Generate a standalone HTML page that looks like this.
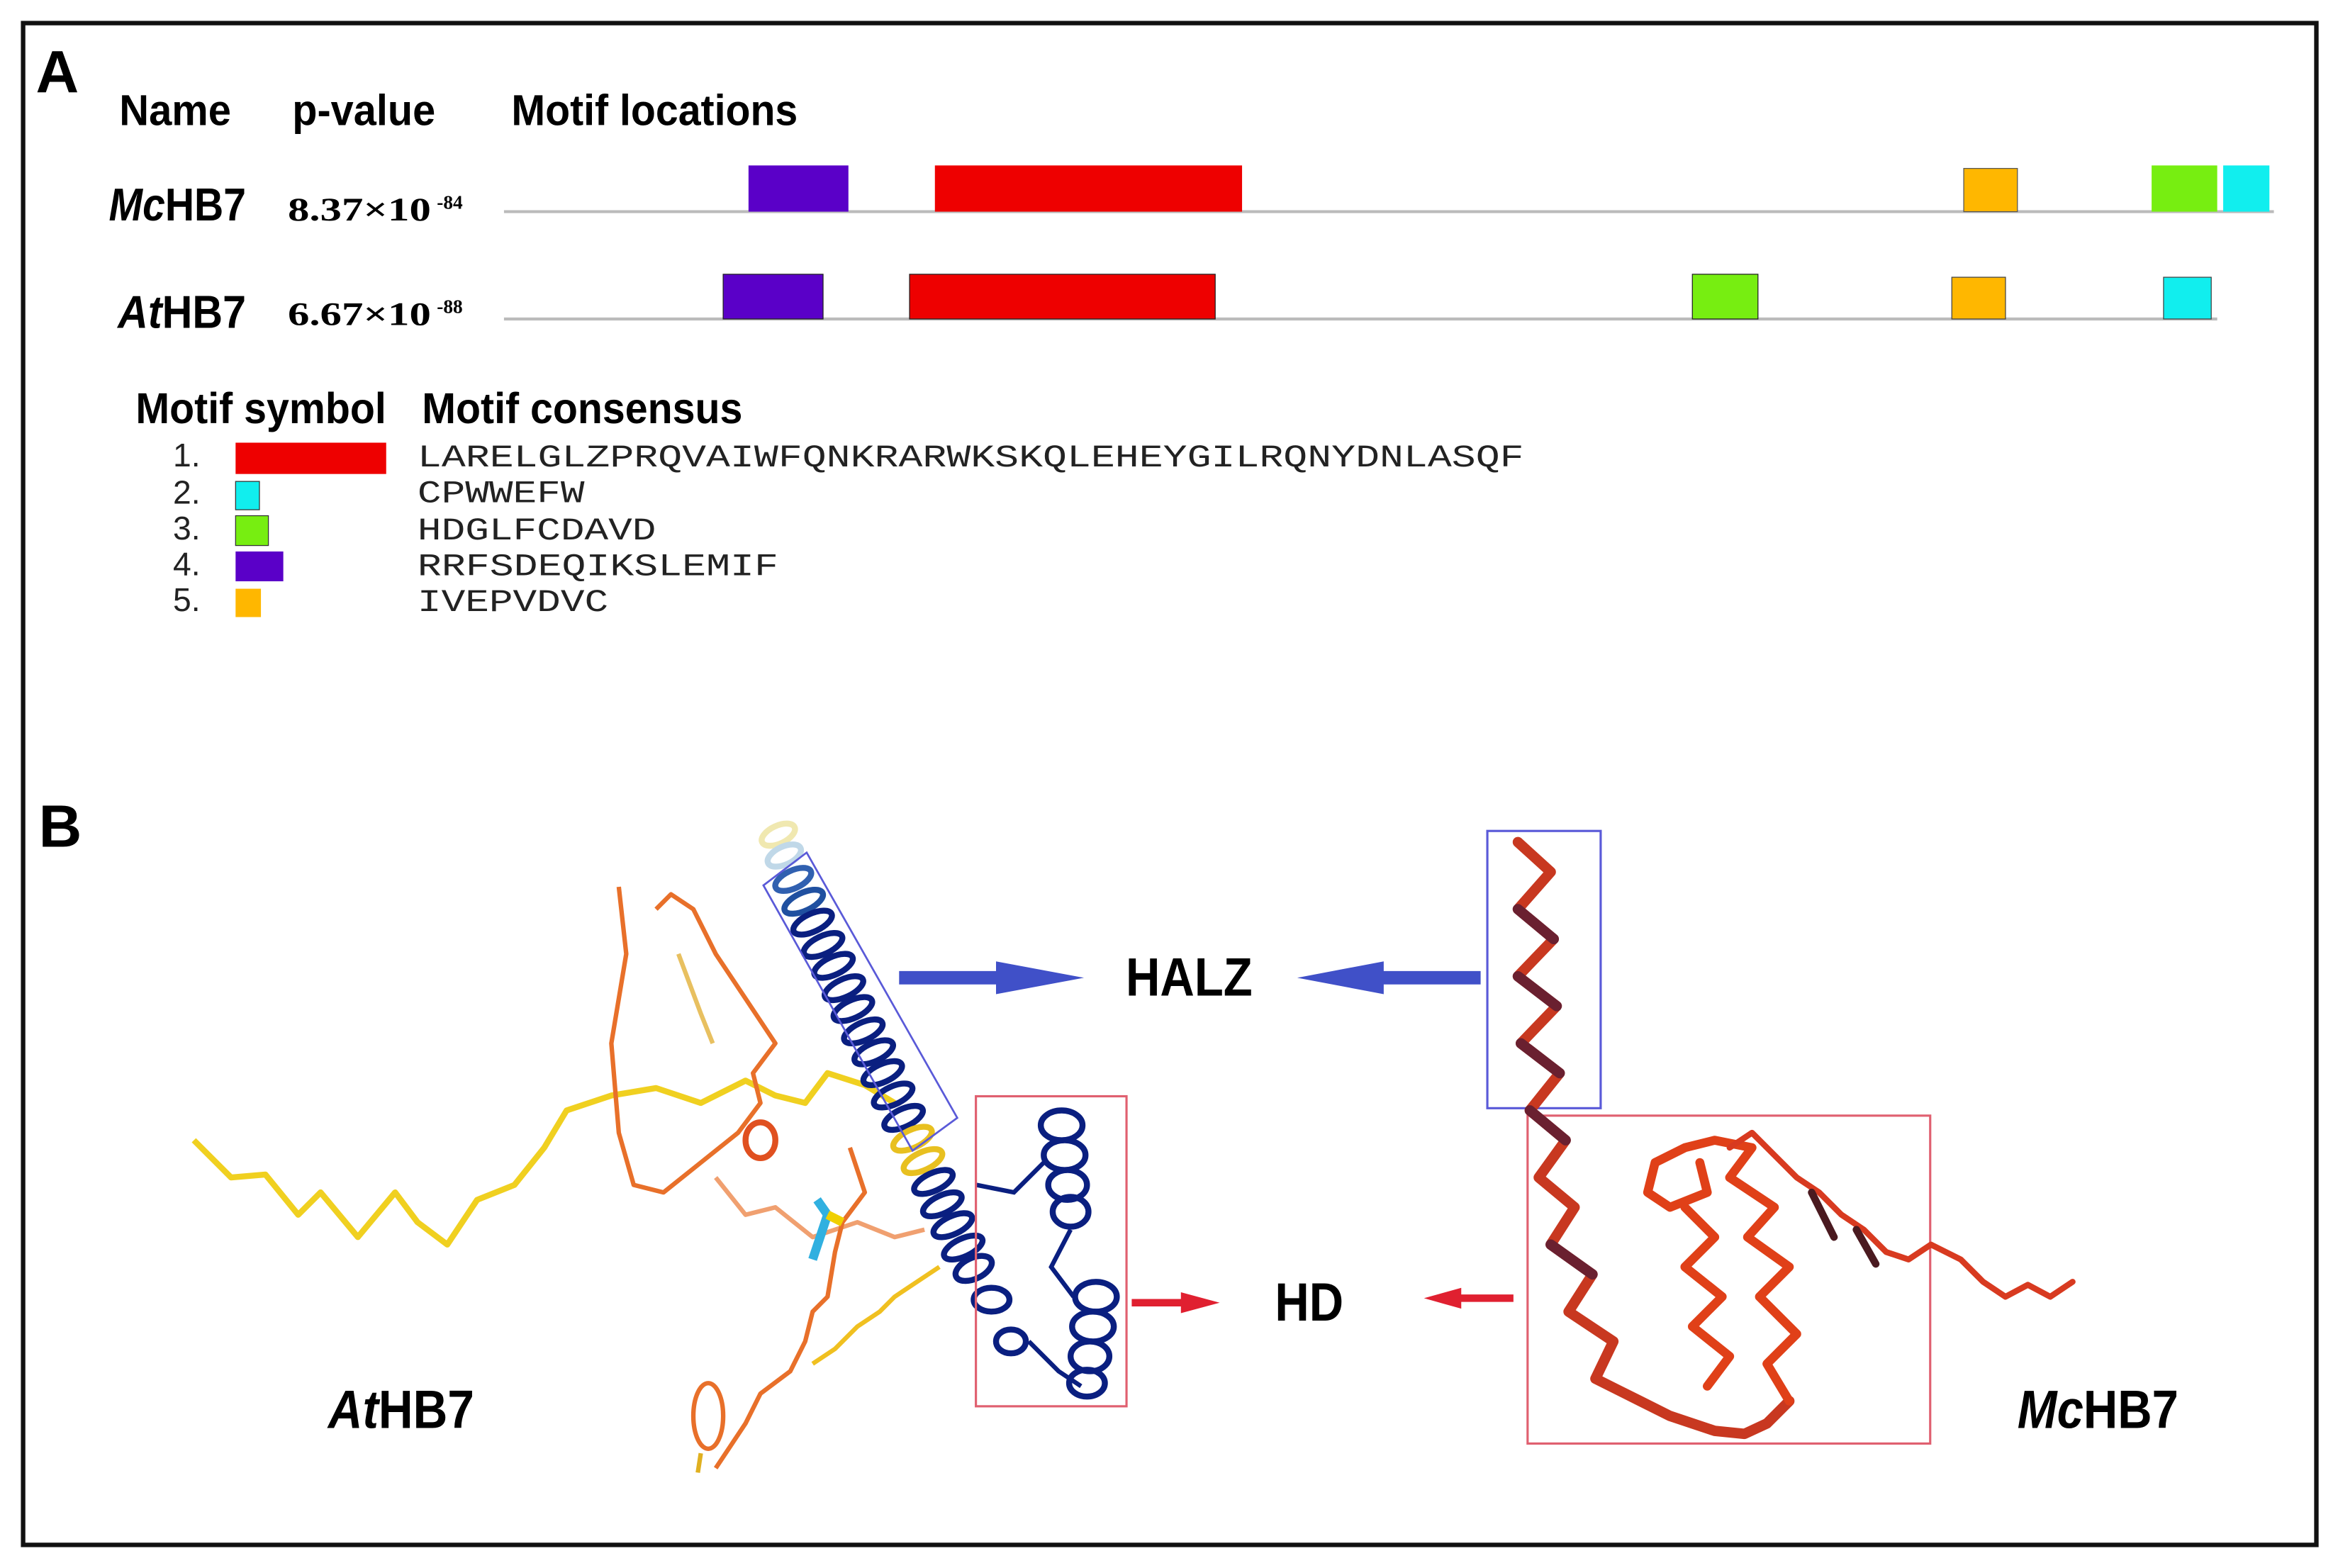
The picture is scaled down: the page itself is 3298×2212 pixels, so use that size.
<!DOCTYPE html>
<html><head><meta charset="utf-8"><style>
html,body{margin:0;padding:0;background:#fff;}
svg{display:block;}
.h{font-family:"Liberation Sans",sans-serif;font-weight:bold;}
.m{font-family:"Liberation Mono",monospace;}
.s{font-family:"Liberation Serif",serif;font-weight:bold;}
</style></head><body>
<svg width="3298" height="2212" viewBox="0 0 1568 1052" preserveAspectRatio="none" xmlns="http://www.w3.org/2000/svg">
<rect x="0" y="0" width="1568" height="1052" fill="#fff"/>
<rect x="15.5" y="15.5" width="1538" height="1021" fill="none" stroke="#111" stroke-width="3"/>
<text x="24" y="62" class="h" font-size="40">A</text>
<text x="80" y="84" class="h" font-size="29" textLength="75" lengthAdjust="spacingAndGlyphs">Name</text>
<text x="196" y="84" class="h" font-size="29" textLength="96" lengthAdjust="spacingAndGlyphs">p-value</text>
<text x="343" y="84" class="h" font-size="29" textLength="192" lengthAdjust="spacingAndGlyphs">Motif locations</text>

<text x="73" y="148" class="h" font-size="31" textLength="92" lengthAdjust="spacingAndGlyphs"><tspan font-style="italic">Mc</tspan>HB7</text>
<text x="193" y="148" class="s" font-size="22" textLength="96" lengthAdjust="spacingAndGlyphs">8.37×10</text>
<text x="293" y="140" class="s" font-size="13">-84</text>
<line x1="338" y1="142" x2="1525" y2="142" stroke="#bbb" stroke-width="2"/>
<rect x="502" y="111" width="67" height="31" fill="#5a00c8"/>
<rect x="627" y="111" width="206" height="31" fill="#ee0000"/>
<rect x="1317" y="113" width="36" height="29" fill="#ffb700" stroke="#555" stroke-width="0.6"/>
<rect x="1443" y="111" width="44" height="31" fill="#77ee11"/>
<rect x="1491" y="111" width="31" height="31" fill="#11eeee"/>

<text x="79" y="220" class="h" font-size="31" textLength="86" lengthAdjust="spacingAndGlyphs"><tspan font-style="italic">At</tspan>HB7</text>
<text x="193" y="218" class="s" font-size="22" textLength="96" lengthAdjust="spacingAndGlyphs">6.67×10</text>
<text x="293" y="210" class="s" font-size="13">-88</text>
<line x1="338" y1="214" x2="1487" y2="214" stroke="#bbb" stroke-width="2"/>
<rect x="485" y="184" width="67" height="30" fill="#5a00c8" stroke="#222" stroke-width="0.6"/>
<rect x="610" y="184" width="205" height="30" fill="#ee0000" stroke="#222" stroke-width="0.6"/>
<rect x="1135" y="184" width="44" height="30" fill="#77ee11" stroke="#222" stroke-width="0.6"/>
<rect x="1309" y="186" width="36" height="28" fill="#ffb700" stroke="#444" stroke-width="0.6"/>
<rect x="1451" y="186" width="32" height="28" fill="#11eeee" stroke="#444" stroke-width="0.6"/>

<text x="91" y="284" class="h" font-size="29" textLength="168" lengthAdjust="spacingAndGlyphs">Motif symbol</text>
<text x="283" y="284" class="h" font-size="29" textLength="215" lengthAdjust="spacingAndGlyphs">Motif consensus</text>
<g font-family="Liberation Sans,sans-serif" font-size="22" fill="#222">
<text x="116" y="313">1.</text><text x="116" y="338">2.</text><text x="116" y="362">3.</text><text x="116" y="386">4.</text><text x="116" y="410">5.</text>
</g>
<rect x="158" y="297" width="101" height="21" fill="#ee0000"/>
<rect x="158" y="323" width="16" height="19" fill="#11eeee" stroke="#333" stroke-width="0.6"/>
<rect x="158" y="346" width="22" height="20" fill="#77ee11" stroke="#333" stroke-width="0.6"/>
<rect x="158" y="370" width="32" height="20" fill="#5a00c8"/>
<rect x="158" y="395" width="17" height="19" fill="#ffb700"/>
<g class="m" font-size="21" fill="#222">
<text x="280" y="313" textLength="742" lengthAdjust="spacingAndGlyphs">LARELGLZPRQVAIWFQNKRARWKSKQLEHEYGILRQNYDNLASQF</text>
<text x="280" y="337" textLength="112" lengthAdjust="spacingAndGlyphs">CPWWEFW</text>
<text x="280" y="362" textLength="160" lengthAdjust="spacingAndGlyphs">HDGLFCDAVD</text>
<text x="280" y="386" textLength="242" lengthAdjust="spacingAndGlyphs">RRFSDEQIKSLEMIF</text>
<text x="280" y="410" textLength="128" lengthAdjust="spacingAndGlyphs">IVEPVDVC</text>
</g>

<text x="26" y="568" class="h" font-size="40">B</text>

<g fill="none" stroke-linejoin="round">
<path d="M130 765 L155 790 L178 788 L200 815 L215 800 L240 830 L265 800 L280 820 L300 835 L320 805 L345 795 L365 770 L380 745 L410 735 L440 730 L470 740 L500 725 L520 735 L540 740 L555 720 L580 728 L600 740" stroke="#f0d020" stroke-width="4"/>
<path d="M415 595 L420 640 L410 700 L415 760 L425 795 L445 800 L470 780 L495 760 L510 740 L505 720 L520 700 L500 670 L480 640 L465 610 L450 600 L440 610" stroke="#e8702a" stroke-width="3"/>
<path d="M455 640 L470 680 L478 700" stroke="#e8c060" stroke-width="3"/>
<path d="M480 790 L500 815 L520 810 L545 830 L575 820 L600 830 L620 825" stroke="#f0a070" stroke-width="3"/>
<path d="M570 770 L580 800 L565 820 L560 840 L555 870 L545 880 L540 900 L530 920 L510 935 L500 955 L490 970 L480 985" stroke="#e8702a" stroke-width="3"/>
<path d="M630 850 L615 860 L600 870 L590 880 L575 890 L560 905 L545 915" stroke="#f0c020" stroke-width="3"/>
<ellipse cx="475" cy="950" rx="10" ry="22" stroke="#e8702a" stroke-width="3"/>
<path d="M470 975 L468 988" stroke="#e0b020" stroke-width="3"/>
<ellipse cx="510" cy="765" rx="10" ry="12" stroke="#e05020" stroke-width="4"/>
<path d="M548 805 L555 815 L550 830 L545 845" stroke="#30b0e0" stroke-width="6"/>
<path d="M555 815 L565 820" stroke="#f0d000" stroke-width="6"/>
</g>
<g fill="none" stroke-width="4">
<ellipse cx="522" cy="560" rx="12" ry="6" transform="rotate(-25 522 560)" stroke="#f0e8b0"/>
<ellipse cx="526" cy="574" rx="12" ry="6" transform="rotate(-25 526 574)" stroke="#c0d8e8"/>
</g>
<g fill="none" stroke="#0a1f80" stroke-width="4">
<ellipse cx="532" cy="590" rx="13" ry="6" transform="rotate(-25 532 590)" stroke="#3060b0"/>
<ellipse cx="539" cy="605" rx="14" ry="6" transform="rotate(-25 539 605)" stroke="#2050a0"/>
<ellipse cx="545" cy="619" rx="14" ry="6" transform="rotate(-25 545 619)"/>
<ellipse cx="552" cy="634" rx="14" ry="6" transform="rotate(-25 552 634)"/>
<ellipse cx="559" cy="648" rx="14" ry="6" transform="rotate(-25 559 648)"/>
<ellipse cx="566" cy="663" rx="14" ry="6" transform="rotate(-25 566 663)"/>
<ellipse cx="572" cy="677" rx="14" ry="6" transform="rotate(-25 572 677)"/>
<ellipse cx="579" cy="692" rx="14" ry="6" transform="rotate(-25 579 692)"/>
<ellipse cx="586" cy="706" rx="14" ry="6" transform="rotate(-25 586 706)"/>
<ellipse cx="592" cy="720" rx="14" ry="6" transform="rotate(-25 592 720)"/>
<ellipse cx="599" cy="735" rx="14" ry="6" transform="rotate(-25 599 735)"/>
<ellipse cx="606" cy="750" rx="14" ry="6" transform="rotate(-25 606 750)"/>
<ellipse cx="612" cy="764" rx="14" ry="6" transform="rotate(-25 612 764)" stroke="#e8c020"/>
<ellipse cx="619" cy="779" rx="14" ry="6" transform="rotate(-25 619 779)" stroke="#e8c020"/>
<ellipse cx="626" cy="793" rx="14" ry="6" transform="rotate(-25 626 793)"/>
<ellipse cx="632" cy="808" rx="14" ry="6" transform="rotate(-25 632 808)"/>
<ellipse cx="639" cy="822" rx="14" ry="6" transform="rotate(-25 639 822)"/>
<ellipse cx="646" cy="837" rx="14" ry="6" transform="rotate(-25 646 837)"/>
<ellipse cx="653" cy="851" rx="13" ry="7" transform="rotate(-25 653 851)"/>
<ellipse cx="665" cy="872" rx="12" ry="8" />
<ellipse cx="678" cy="900" rx="10" ry="8" />
<ellipse cx="712" cy="755" rx="14" ry="10"/>
<ellipse cx="714" cy="775" rx="14" ry="10"/>
<ellipse cx="716" cy="795" rx="13" ry="10"/>
<ellipse cx="718" cy="813" rx="12" ry="10"/>
<ellipse cx="735" cy="870" rx="14" ry="10"/>
<ellipse cx="733" cy="890" rx="14" ry="10"/>
<ellipse cx="731" cy="910" rx="13" ry="10"/>
<ellipse cx="729" cy="928" rx="12" ry="9"/>
<path d="M655 795 L680 800 L700 780 M718 825 L705 850 L720 870 M690 900 L710 920 L725 930" stroke-width="3"/>
</g>
<polygon points="512,594 541,572 642,750 612,772" fill="none" stroke="#5a5ad8" stroke-width="1.3"/>
<rect x="654.5" y="735.5" width="101" height="208" fill="none" stroke="#e06070" stroke-width="1.5"/>
<rect x="997.5" y="557.5" width="76" height="186" fill="none" stroke="#5a5ad8" stroke-width="1.5"/>
<rect x="1024.5" y="748.5" width="270" height="220" fill="none" stroke="#e06070" stroke-width="1.5"/>
<g fill="none" stroke-linejoin="round" stroke-linecap="round">
<path d="M1018 565 L1040 585 L1018 610 L1042 630 L1018 655 L1044 675 L1020 700 L1046 720 L1026 745 L1050 765 L1032 790 L1056 810 L1040 835 L1068 855 L1052 880 L1082 900 L1070 925 L1100 940 L1120 950 L1150 960 L1170 962 L1185 955 L1200 940" stroke="#c83820" stroke-width="7"/>
<path d="M1018 610 L1042 630 M1018 655 L1044 675 M1020 700 L1046 720 M1026 745 L1050 765 M1040 835 L1068 855" stroke="#6a2030" stroke-width="7"/>
<path d="M1200 940 L1185 915 L1205 895 L1180 870 L1200 850 L1172 830 L1190 810 L1160 790 L1175 770 L1150 765 L1130 770 L1110 780 L1105 800 L1120 810 L1145 800 L1140 780" stroke="#e04018" stroke-width="6"/>
<path d="M1130 810 L1150 830 L1130 850 L1155 870 L1135 890 L1160 910 L1145 930" stroke="#e04018" stroke-width="6"/>
<path d="M1160 770 L1175 760 L1190 775 L1205 790 L1220 800 L1235 815 L1250 825 L1265 840 L1280 845 L1295 835 L1315 845 L1330 860 L1345 870 L1360 862 L1375 870 L1390 860" stroke="#d83a20" stroke-width="4"/>
<path d="M1215 800 L1230 830 M1245 825 L1258 848" stroke="#4a1a20" stroke-width="5"/>
</g>
<line x1="603" y1="656" x2="690" y2="656" stroke="#4050c8" stroke-width="9"/>
<polygon points="668,645 727,656 668,667" fill="#4050c8"/>
<text x="755" y="668" class="h" font-size="36" textLength="85" lengthAdjust="spacingAndGlyphs">HALZ</text>
<line x1="993" y1="656" x2="905" y2="656" stroke="#4050c8" stroke-width="9"/>
<polygon points="928,645 870,656 928,667" fill="#4050c8"/>
<line x1="759" y1="874" x2="800" y2="874" stroke="#e02030" stroke-width="5"/>
<polygon points="792,867 818,874 792,881" fill="#e02030"/>
<text x="855" y="886" class="h" font-size="36" textLength="46" lengthAdjust="spacingAndGlyphs">HD</text>
<line x1="1015" y1="871" x2="972" y2="871" stroke="#e02030" stroke-width="5"/>
<polygon points="980,864 955,871 980,878" fill="#e02030"/>
<text x="220" y="958" class="h" font-size="36" textLength="98" lengthAdjust="spacingAndGlyphs"><tspan font-style="italic">At</tspan>HB7</text>
<text x="1353" y="958" class="h" font-size="36" textLength="108" lengthAdjust="spacingAndGlyphs"><tspan font-style="italic">Mc</tspan>HB7</text>
</svg>
</body></html>
